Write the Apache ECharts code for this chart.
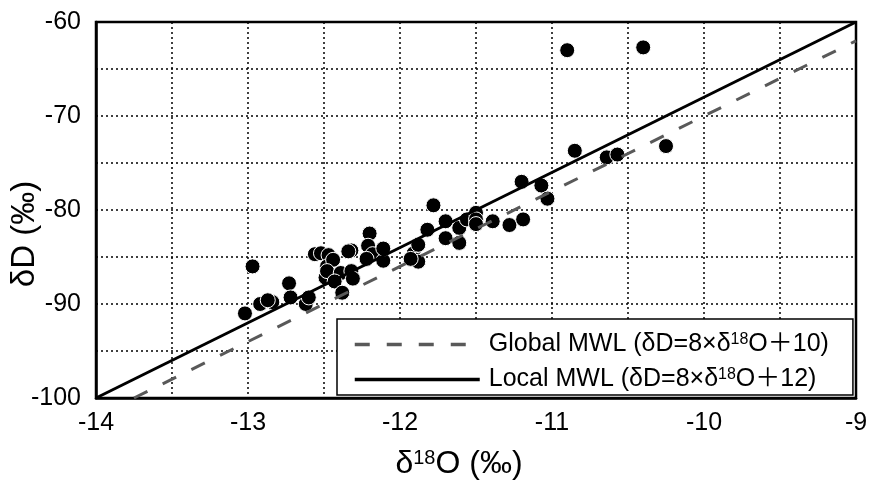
<!DOCTYPE html>
<html>
<head>
<meta charset="utf-8">
<script src="https://cdn.jsdelivr.net/npm/echarts@6/dist/echarts.min.js"></script>
<style>
  html, body { margin: 0; padding: 0; background: #fff; }
  #main { width: 873px; height: 487px; }
</style>
</head>
<body>
<div id="main"></div>
<script>
// measured samples: d18O and dD (permil)
var d18O = [
  -13.02, -12.97, -12.92, -12.84, -12.87, -12.73, -12.72, -12.62, -12.60, -12.56,
  -12.52, -12.47, -12.48, -12.49, -12.44, -12.48, -12.39, -12.32, -12.31, -12.43,
  -12.38, -12.32, -12.34, -12.20, -12.21, -12.18, -12.22, -12.11, -12.11, -11.91,
  -11.88, -11.89, -11.88, -11.93, -11.82, -11.78, -11.70, -11.70, -11.61, -11.61,
  -11.56, -11.50, -11.50, -11.50, -11.39, -11.28, -11.19, -11.20, -11.07, -11.03,
  -10.85, -10.64, -10.57, -10.25, -10.90, -10.40
];
var dD = [
  -91.0, -86.0, -90.0, -89.8, -89.6, -87.8, -89.3, -90.0, -89.3, -84.7,
  -84.6, -84.8, -86.0, -87.2, -85.3, -86.5, -86.7, -86.5, -87.3, -87.6,
  -88.8, -84.3, -84.4, -82.5, -83.8, -84.7, -85.2, -85.4, -84.1, -84.6,
  -83.7, -85.3, -85.5, -85.2, -82.1, -79.5, -81.2, -83.0, -81.9, -83.5,
  -81.0, -80.3, -81.0, -81.5, -81.2, -81.6, -81.0, -77.0, -77.4, -78.8,
  -73.7, -74.4, -74.1, -73.2, -63.0, -62.7
];

// meteoric water line end points
var globalX = [-13.75, -9];
var globalY = [-100, -62];
var localX = [-14, -9];
var localY = [-100, -60];

var xTicks = [-14, -13, -12, -11, -10, -9];
var yTicks = [-100, -90, -80, -70, -60];

var globalName = 'Global MWL (δD=8×δ18O＋10)';
var localName = 'Local MWL (δD=8×δ18O＋12)';

function pairs(xs, ys) {
  var out = [];
  for (var i = 0; i < xs.length; i++) out.push([xs[i], ys[i]]);
  return out;
}

var font = "'Liberation Sans', Arial, 'Noto Sans CJK SC', sans-serif";
var dotLine = { color: '#000', width: 1.5, type: [2, 3] };

var chart = echarts.init(document.getElementById('main'));
chart.setOption({
  animation: false,
  backgroundColor: '#fff',
  textStyle: { fontFamily: font, color: '#000' },
  grid: {
    left: 96, right: 17, top: 22, bottom: 89,
    outerBoundsMode: 'none',
    containLabel: false,
    show: true, borderColor: '#000', borderWidth: 2.5
  },
  legend: {
    data: [globalName, localName],
    orient: 'vertical',
    left: 337, top: 319,
    itemWidth: 125, itemHeight: 24, itemGap: 10,
    padding: [13, 24, 3, 16],
    backgroundColor: '#fff',
    borderColor: '#000', borderWidth: 1.5, borderRadius: 0,
    // hide the marker the line legend puts in the middle
    itemStyle: { color: 'rgba(0,0,0,0)', borderWidth: 0, opacity: 0 },
    lineStyle: { width: 3.5 },
    formatter: function (name) {
      return name.replace('18', '{sup|18}');
    },
    textStyle: {
      fontFamily: font, fontSize: 25, color: '#000', padding: [0, 0, 0, 4],
      rich: {
        sup: { fontSize: 16, verticalAlign: 'top', fontFamily: font, padding: [0, 0, 9, 0] }
      }
    }
  },
  xAxis: {
    type: 'value',
    min: -14, max: -9, interval: 0.5,
    name: '{a|δ}{sup|18}{a|O (‰)}',
    nameLocation: 'middle', nameGap: 50,
    nameMoveOverlap: false,
    nameTextStyle: {
      padding: [0, 34, 0, 0],
      rich: {
        a: { fontSize: 32, fontFamily: font, color: '#000' },
        sup: { fontSize: 20, fontFamily: font, color: '#000', verticalAlign: 'top', padding: [0, 0, 13, 0] }
      }
    },
    axisLine: { show: true, lineStyle: { color: '#000', width: 2.5 } },
    axisTick: { show: false },
    axisLabel: {
      fontSize: 25, color: '#000', margin: 13, fontFamily: font,
      formatter: function (v) { return xTicks.indexOf(v) >= 0 ? String(v) : ''; }
    },
    splitLine: { show: true, lineStyle: dotLine }
  },
  yAxis: {
    type: 'value',
    min: -100, max: -60, interval: 5,
    name: 'δD (‰)',
    nameLocation: 'middle', nameGap: 55, nameRotate: 90,
    nameMoveOverlap: false,
    nameTextStyle: { fontSize: 33, fontFamily: font, color: '#000', padding: [0, 48, 0, 0] },
    axisLine: { show: true, lineStyle: { color: '#000', width: 2.5 } },
    axisTick: { show: false },
    axisLabel: {
      fontSize: 25, color: '#000', margin: 15, fontFamily: font,
      formatter: function (v) { return yTicks.indexOf(v) >= 0 ? String(v) : ''; }
    },
    splitLine: { show: true, lineStyle: dotLine }
  },
  series: [
    {
      name: 'samples',
      type: 'scatter',
      symbol: 'circle',
      symbolSize: 15,
      itemStyle: { color: '#000', borderColor: '#fff', borderWidth: 1, opacity: 1 },
      data: pairs(d18O, dD),
      z: 2
    },
    {
      name: globalName,
      type: 'line',
      showSymbol: false, symbol: 'none',
      lineStyle: { color: '#595959', width: 3, type: [15, 17] },
      itemStyle: { color: '#595959' },
      data: pairs(globalX, globalY),
      z: 3
    },
    {
      name: localName,
      type: 'line',
      showSymbol: false, symbol: 'none',
      lineStyle: { color: '#000', width: 3 },
      itemStyle: { color: '#000' },
      data: pairs(localX, localY),
      z: 3
    }
  ]
});
</script>
</body>
</html>
